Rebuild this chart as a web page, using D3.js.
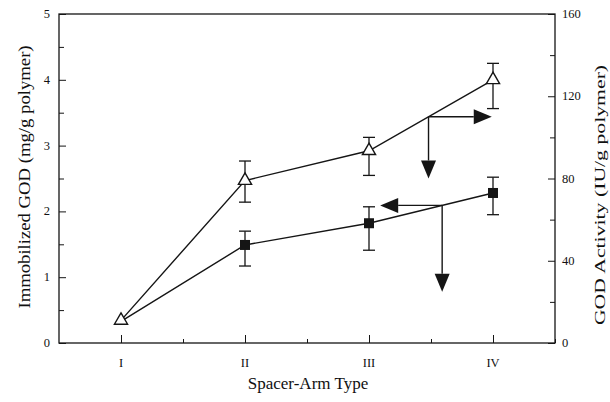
<!DOCTYPE html>
<html><head><meta charset="utf-8">
<script src="https://cdn.jsdelivr.net/npm/d3@7"></script>
<style>body{margin:0;background:#fff}svg{display:block}text{font-family:"Liberation Serif","Times New Roman",serif;fill:#111}</style>
</head><body><svg id="c" width="610" height="402"></svg>
<script>
// Categories (spacer-arm types)
const categories = ["I", "II", "III", "IV"];
// Immobilized GOD (mg/g polymer) - filled squares, left axis
const godAmount = [0.33, 1.49, 1.82, 2.28];
const godAmountLow = [null, 1.17, 1.41, 1.95];
const godAmountHigh = [null, 1.70, 2.07, 2.52];
// GOD activity (IU/g polymer) - open triangles, right axis
const godActivity = [11, 79, 93.5, 128];
const godActivityLow = [null, 68.5, 81.5, 114];
const godActivityHigh = [null, 88.5, 100, 136];
// Tick labels
const leftTicks = [0, 1, 2, 3, 4, 5];
const rightTicks = [0, 40, 80, 120, 160];
// Arrow annotations (data units): anchor x on the line, horizontal target x, vertical target value
const activityArrow = {at: 3.48, toX: 3.99, toY: 80};
const amountArrow = {at: 3.59, toX: 3.09, toY: 0.78};

const svg = d3.select("#c");
const L = 59, R = 555, T = 14, B = 343;
const x = d3.scaleLinear().domain([0.5, 4.5]).range([L, R]);
const yL = d3.scaleLinear().domain([0, 5]).range([B, T]);
const yR = d3.scaleLinear().domain([0, 160]).range([B, T]);
const ink = "#151515";

// frame
svg.append("rect").attr("x", L).attr("y", T).attr("width", R - L).attr("height", B - T)
  .attr("fill", "none").attr("stroke", ink).attr("stroke-width", 1.3);

// left axis
const gL = svg.append("g").attr("transform", `translate(${L},0)`)
  .call(d3.axisRight(yL).tickValues(d3.range(0, 5.01, 0.5)).tickSize(6).tickFormat(""));
gL.selectAll(".tick line").attr("stroke", ink).attr("x2", (d) => Number.isInteger(d) ? 7 : 5);
gL.select(".domain").remove();
svg.append("g").selectAll("text").data(leftTicks).join("text")
  .attr("x", 50).attr("y", (d) => yL(d) + 4).attr("text-anchor", "end")
  .attr("font-size", 12.5).text((d) => d);

// right axis
const gR = svg.append("g").attr("transform", `translate(${R},0)`)
  .call(d3.axisLeft(yR).tickValues(d3.range(0, 160.1, 20)).tickSize(6).tickFormat(""));
gR.selectAll(".tick line").attr("stroke", ink).attr("x2", (d) => d % 40 === 0 ? -7 : -5);
gR.select(".domain").remove();
svg.append("g").selectAll("text").data(rightTicks).join("text")
  .attr("x", 562).attr("y", (d) => yR(d) + 4).attr("text-anchor", "start")
  .attr("font-size", 12.5).text((d) => d);

// x axis ticks
const gX = svg.append("g").attr("transform", `translate(0,${B})`)
  .call(d3.axisTop(x).tickValues(d3.range(1, 4.6, 0.5)).tickSize(6).tickFormat(""));
gX.selectAll(".tick line").attr("stroke", ink).attr("y2", (d) => Number.isInteger(d) ? -8 : -4);
gX.select(".domain").remove();
svg.append("g").selectAll("text").data(categories).join("text")
  .attr("x", (d, i) => x(i + 1)).attr("y", 367).attr("text-anchor", "middle")
  .attr("font-size", 12.5).text((d) => d);

// axis titles
svg.append("text").attr("x", 308).attr("y", 389).attr("text-anchor", "middle")
  .attr("font-size", 17).text("Spacer-Arm Type");
svg.append("text").attr("transform", "translate(30,177) rotate(-90) scale(1.1,1)").attr("text-anchor", "middle")
  .attr("font-size", 17).text("Immobilized GOD (mg/g polymer)");
svg.append("text").attr("transform", "translate(605,195) rotate(-90) scale(1.45,1)").attr("text-anchor", "middle")
  .attr("font-size", 15).text("GOD Activity (IU/g polymer)");

const line = (ys, s) => d3.line().x((d, i) => x(i + 1)).y((d) => s(d))(ys);
// lines
svg.append("path").attr("d", line(godAmount, yL)).attr("fill", "none").attr("stroke", ink).attr("stroke-width", 1.4);
svg.append("path").attr("d", line(godActivity, yR)).attr("fill", "none").attr("stroke", ink).attr("stroke-width", 1.4);

// error bars
function errBars(lo, hi, s) {
  const g = svg.append("g").attr("stroke", ink).attr("stroke-width", 1.3);
  lo.forEach((l, i) => {
    if (l === null) return;
    const cx = x(i + 1), y1 = s(l), y2 = s(hi[i]);
    g.append("line").attr("x1", cx).attr("x2", cx).attr("y1", y1).attr("y2", y2);
    g.append("line").attr("x1", cx - 6).attr("x2", cx + 6).attr("y1", y1).attr("y2", y1);
    g.append("line").attr("x1", cx - 6).attr("x2", cx + 6).attr("y1", y2).attr("y2", y2);
  });
}
errBars(godAmountLow, godAmountHigh, yL);
errBars(godActivityLow, godActivityHigh, yR);

// squares (the type I point is hidden under the triangle)
svg.append("g").selectAll("rect").data(godAmount.slice(1)).join("rect")
  .attr("x", (d, i) => x(i + 2) - 5).attr("y", (d) => yL(d) - 5)
  .attr("width", 10).attr("height", 10).attr("fill", ink);
// triangles
const tri = d3.symbol().type(d3.symbolTriangle).size(75);
svg.append("g").selectAll("path").data(godActivity).join("path")
  .attr("transform", (d, i) => `translate(${x(i + 1)},${yR(d)})`)
  .attr("d", tri).attr("fill", "#fff").attr("stroke", ink).attr("stroke-width", 1.4);

// arrows
function interp(vals, s, at) {
  const i = Math.floor(at) - 1, f = at - Math.floor(at);
  return s(vals[i]) + (s(vals[i + 1]) - s(vals[i])) * f;
}
function arrow(x1, y1, x2, y2) {
  const g = svg.append("g");
  const ang = Math.atan2(y2 - y1, x2 - x1), hl = 18, hw = 7.5;
  const bx = x2 - hl * Math.cos(ang), by = y2 - hl * Math.sin(ang);
  g.append("line").attr("x1", x1).attr("y1", y1).attr("x2", bx).attr("y2", by)
    .attr("stroke", ink).attr("stroke-width", 1.4);
  const px = -Math.sin(ang) * hw, py = Math.cos(ang) * hw;
  g.append("path").attr("d", `M${x2},${y2}L${bx + px},${by + py}L${bx - px},${by - py}Z`).attr("fill", ink);
}
const ax1 = x(activityArrow.at), ay1 = interp(godActivity, yR, activityArrow.at);
arrow(ax1, ay1, x(activityArrow.toX), ay1);
arrow(ax1, ay1, ax1, yR(activityArrow.toY));
const ax2 = x(amountArrow.at), ay2 = interp(godAmount, yL, amountArrow.at);
arrow(ax2, ay2, x(amountArrow.toX), ay2);
arrow(ax2, ay2, ax2, yL(amountArrow.toY));
</script></body></html>
